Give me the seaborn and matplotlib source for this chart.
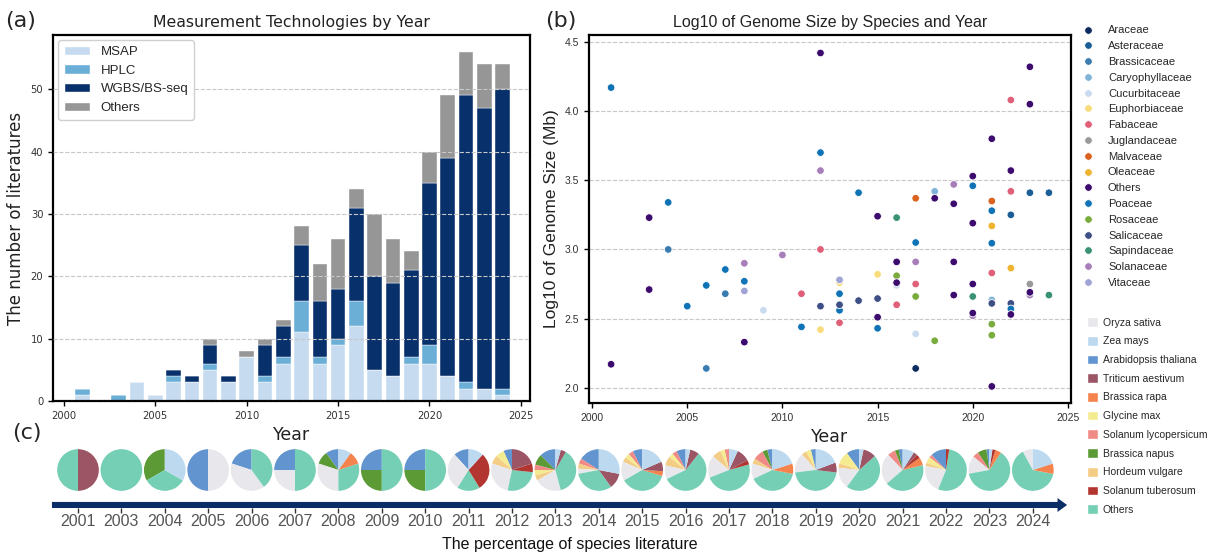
import matplotlib.pyplot as plt
import matplotlib.patches as mpatches
import numpy as np
import pandas as pd
import seaborn as sns

W, H = 1215, 554

# ---- data ----
years = [2001, 2003] + list(range(2004, 2025))

# (a) number of papers per measurement technology
msap = [1, 0, 3, 1, 3, 3, 5, 3, 7, 3, 6, 11, 6, 9, 12, 5, 4, 6, 6, 4, 2, 2, 1]
hplc = [1, 1, 0, 0, 1, 0, 1, 0, 0, 1, 1, 5, 1, 1, 4, 0, 0, 1, 3, 0, 1, 0, 1]
wgbs = [0, 0, 0, 0, 1, 1, 3, 1, 0, 5, 5, 9, 9, 8, 15, 15, 15, 14, 26, 35, 46, 45, 48]
other_tech = [0, 0, 0, 0, 0, 0, 1, 0, 1, 1, 1, 3, 6, 8, 3, 10, 7, 3, 5, 10, 7, 7, 4]
tech_names = ["MSAP", "HPLC", "WGBS/BS-seq", "Others"]
tech_colors = ["#c6dbef", "#6baed6", "#08306b", "#969696"]

# (b) log10 genome size by family
pt_year = [2001, 2001, 2003, 2003, 2004, 2004, 2005, 2006, 2006, 2007, 2007,
           2008, 2008, 2008, 2008, 2009, 2010, 2011, 2011,
           2012, 2012, 2012, 2012, 2012, 2012,
           2013, 2013, 2013, 2013, 2013, 2013, 2014, 2014,
           2015, 2015, 2015, 2015, 2015,
           2016, 2016, 2016, 2016, 2016, 2016,
           2017, 2017, 2017, 2017, 2017, 2017, 2017,
           2018, 2018, 2018, 2019, 2019, 2019, 2019,
           2020, 2020, 2020, 2020, 2020, 2020, 2020,
           2021, 2021, 2021, 2021, 2021, 2021, 2021, 2021, 2021, 2021, 2021,
           2022, 2022, 2022, 2022, 2022, 2022, 2022, 2022,
           2023, 2023, 2023, 2023, 2023, 2023, 2024, 2024]
pt_logsize = [4.17, 2.17, 3.23, 2.71, 3.34, 3.00, 2.59, 2.74, 2.14, 2.855, 2.68,
              2.90, 2.77, 2.70, 2.33, 2.56, 2.96, 2.68, 2.44,
              4.42, 3.70, 3.57, 3.00, 2.59, 2.42,
              2.76, 2.78, 2.68, 2.56, 2.60, 2.47, 3.41, 2.63,
              3.24, 2.82, 2.645, 2.51, 2.43,
              3.23, 2.91, 2.81, 2.74, 2.76, 2.60,
              3.37, 3.05, 2.91, 2.75, 2.66, 2.39, 2.14,
              3.42, 3.37, 2.34, 3.47, 3.33, 2.91, 2.67,
              3.53, 3.46, 3.19, 2.75, 2.66, 2.52, 2.54,
              3.80, 3.35, 3.28, 3.17, 3.045, 2.83, 2.635, 2.61, 2.46, 2.38, 2.01,
              4.08, 3.57, 3.42, 3.25, 2.865, 2.61, 2.57, 2.53,
              4.32, 4.05, 3.41, 2.75, 2.67, 2.69, 3.41, 2.67]
pt_family = ["Poaceae", "Others", "Others", "Others", "Poaceae", "Brassicaceae", "Poaceae",
             "Poaceae", "Brassicaceae", "Poaceae", "Brassicaceae",
             "Solanaceae", "Poaceae", "Vitaceae", "Others", "Cucurbitaceae", "Solanaceae",
             "Fabaceae", "Poaceae",
             "Others", "Poaceae", "Solanaceae", "Fabaceae", "Salicaceae", "Euphorbiaceae",
             "Euphorbiaceae", "Vitaceae", "Poaceae", "Poaceae", "Salicaceae", "Fabaceae",
             "Poaceae", "Salicaceae",
             "Others", "Euphorbiaceae", "Salicaceae", "Others", "Poaceae",
             "Sapindaceae", "Others", "Rosaceae", "Cucurbitaceae", "Others", "Fabaceae",
             "Malvaceae", "Poaceae", "Solanaceae", "Fabaceae", "Rosaceae", "Cucurbitaceae", "Araceae",
             "Caryophyllaceae", "Others", "Rosaceae", "Solanaceae", "Others", "Others", "Others",
             "Others", "Poaceae", "Others", "Others", "Sapindaceae", "Solanaceae", "Others",
             "Others", "Malvaceae", "Poaceae", "Oleaceae", "Poaceae", "Fabaceae",
             "Caryophyllaceae", "Salicaceae", "Rosaceae", "Rosaceae", "Others",
             "Fabaceae", "Others", "Fabaceae", "Asteraceae", "Oleaceae", "Salicaceae",
             "Poaceae", "Others",
             "Others", "Others", "Asteraceae", "Juglandaceae", "Solanaceae", "Others",
             "Asteraceae", "Sapindaceae"]
families = ["Araceae", "Asteraceae", "Brassicaceae", "Caryophyllaceae", "Cucurbitaceae",
            "Euphorbiaceae", "Fabaceae", "Juglandaceae", "Malvaceae", "Oleaceae", "Others",
            "Poaceae", "Rosaceae", "Salicaceae", "Sapindaceae", "Solanaceae", "Vitaceae"]
family_colors = ["#0d2b5e", "#1b5e96", "#3b7cb0", "#80b3d8", "#c9dbee",
                 "#f8dc7c", "#e0607a", "#9a9a9a", "#d8621e", "#eeb32f", "#3d0a6e",
                 "#0f73b6", "#79ac3c", "#3e4f86", "#3a9274", "#a77eb9", "#a0a4d4"]

# (c) species share per year
oryza = [0, 0, 0, 1, 2, 1, 3, 0, 0, 5, 4, 5, 1, 4, 3, 5, 3, 4, 5, 8, 9, 6, 2]
zea = [0, 0, 1, 0, 0, 0, 1, 0, 0, 2, 0, 1, 7, 5, 1, 2, 5, 5, 1, 3, 0, 1, 5]
arabidopsis = [0, 0, 0, 1, 1, 1, 1, 1, 1, 2, 1, 3, 4, 2, 2, 0, 1, 1, 3, 1, 5, 1, 0]
triticum = [1, 0, 0, 0, 0, 0, 0, 0, 0, 0, 3, 1, 3, 2, 2, 3, 0, 2, 3, 1, 0, 0, 0]
b_rapa = [0, 0, 0, 0, 0, 0, 1, 0, 0, 0, 0, 0, 0, 1, 0, 0, 2, 0, 0, 2, 0, 2, 2]
glycine = [0, 0, 0, 0, 0, 0, 0, 0, 0, 0, 1, 1, 0, 1, 1, 1, 0, 1, 3, 0, 2, 0, 0]
lycopersicum = [0, 0, 0, 0, 0, 0, 0, 0, 0, 0, 0, 1, 1, 1, 1, 1, 2, 0, 0, 2, 1, 2, 0]
b_napus = [0, 0, 1, 0, 0, 0, 1, 1, 1, 0, 0, 2, 0, 0, 0, 0, 1, 0, 0, 1, 0, 3, 0]
hordeum = [0, 0, 0, 0, 0, 0, 0, 0, 0, 0, 1, 1, 1, 1, 2, 2, 1, 1, 1, 0, 1, 0, 0]
tuberosum = [0, 0, 0, 0, 0, 0, 0, 0, 0, 5, 1, 0, 0, 0, 0, 1, 0, 0, 0, 1, 1, 1, 0]
other_species = [1, 1, 1, 0, 2, 2, 3, 2, 2, 3, 4, 9, 8, 10, 16, 14, 10, 12, 14, 14, 22, 27, 16]
species = ["Oryza sativa", "Zea mays", "Arabidopsis thaliana", "Triticum aestivum",
           "Brassica rapa", "Glycine max", "Solanum lycopersicum", "Brassica napus",
           "Hordeum vulgare", "Solanum tuberosum", "Others"]
species_colors = ["#e8e8ec", "#bcd9f0", "#6295cf", "#9b5564", "#f4834e", "#f5ec92",
                  "#f08a86", "#5c9a35", "#f3cc85", "#b23530", "#74cfb4"]
wedge_order = ["Arabidopsis thaliana", "Brassica napus", "Solanum lycopersicum", "Glycine max",
               "Hordeum vulgare", "Oryza sativa", "Others", "Brassica rapa",
               "Solanum tuberosum", "Triticum aestivum", "Zea mays"]

# ---- style ----
sns.set_theme(style="ticks")
plt.rcParams["font.family"] = ["DejaVu Sans"]
ARIAL = "Liberation Sans"

fig = plt.figure(figsize=(W / 100, H / 100), dpi=100)


def px_axes(left, top, right, bottom):
    return fig.add_axes([left / W, 1 - bottom / H, (right - left) / W, (bottom - top) / H])


def frame(ax):
    for sp in ax.spines.values():
        sp.set_visible(True)
        sp.set_color("black")
        sp.set_linewidth(1.6)
    ax.tick_params(direction="out", length=3.5, width=1, color="black", labelcolor="#333333")


# ---- (a) stacked bars ----
ax_a = px_axes(53, 35, 530, 401)
tech_df = pd.DataFrame({
    "year": years * 4,
    "count": msap + hplc + wgbs + other_tech,
    "tech": np.repeat(tech_names, len(years)),
})
sns.histplot(data=tech_df, x="year", weights="count", hue="tech",
             hue_order=tech_names[::-1], palette=dict(zip(tech_names, tech_colors)),
             multiple="stack", discrete=True, shrink=0.8, alpha=1,
             edgecolor="white", linewidth=0.3, legend=False, ax=ax_a)
ax_a.set_xlim(1999.4, 2025.5)
ax_a.set_ylim(0, 58.7)
ax_a.set_xticks(range(2000, 2026, 5))
ax_a.set_yticks(range(0, 60, 10))
ax_a.yaxis.grid(True, linestyle="--", color="#c8c8c8", linewidth=0.8)
ax_a.set_axisbelow(False)
frame(ax_a)
ax_a.tick_params(labelsize=7.2)
ax_a.set_title("Measurement Technologies by Year", fontsize=11.3, color="#222222")
ax_a.set_xlabel("Year", fontsize=12.5, color="#222222")
ax_a.set_ylabel("The number of literatures", fontsize=12, color="#222222")
tech_handles = [mpatches.Patch(facecolor=c, label=n) for n, c in zip(tech_names, tech_colors)]
ax_a.legend(handles=tech_handles, loc="upper left", borderaxespad=0.4,
            prop={"family": ARIAL, "size": 9.5}, frameon=True, fancybox=True,
            edgecolor="#d0d0d0", framealpha=1)

# ---- (b) scatter ----
ax_b = px_axes(589, 35, 1071, 403)
pts = pd.DataFrame({"year": pt_year, "log_size": pt_logsize, "family": pt_family})
sns.scatterplot(data=pts, x="year", y="log_size", hue="family", hue_order=families,
                palette=dict(zip(families, family_colors)), s=30,
                edgecolor="white", linewidth=0.6, ax=ax_b, zorder=3)
ax_b.set_xlim(1999.84, 2025.16)
ax_b.set_ylim(1.89, 4.55)
ax_b.set_xticks(range(2000, 2026, 5))
ax_b.set_yticks([2.0, 2.5, 3.0, 3.5, 4.0, 4.5])
ax_b.yaxis.grid(True, linestyle="--", color="#c8c8c8", linewidth=0.8)
frame(ax_b)
ax_b.tick_params(labelsize=7.5)
for lab in ax_b.get_xticklabels() + ax_b.get_yticklabels():
    lab.set_family(ARIAL)
ax_b.set_title("Log10 of Genome Size by Species and Year", fontsize=11.5,
               family=ARIAL, color="#222222")
ax_b.set_xlabel("Year", fontsize=12.5, color="#222222")
ax_b.set_ylabel("Log10 of Genome Size (Mb)", fontsize=12.5, family=ARIAL, color="#222222")
sns.move_legend(ax_b, "upper left", bbox_to_anchor=(1078 / W, 1 - 21 / H),
                bbox_transform=fig.transFigure, frameon=False, title=None,
                prop={"family": ARIAL, "size": 8}, handlelength=1.0,
                handletextpad=1.3, labelspacing=0.52, borderaxespad=0)

# ---- (c) pies along a timeline ----
step = 43.4          # pixels between pies
x0_px, yc_px = 78, 470
ax_c = px_axes(0, 440, W, H)
pie_df = pd.DataFrame(dict(zip(species, [oryza, zea, arabidopsis, triticum, b_rapa, glycine,
                                         lycopersicum, b_napus, hordeum, tuberosum,
                                         other_species])), index=years)
color_of = dict(zip(species, species_colors))
for i, yr in enumerate(years):
    row = pie_df.loc[yr, wedge_order]
    row = row[row > 0]
    ax_c.pie(row.values, colors=[color_of[s] for s in row.index], center=(i, 0),
             radius=0.48, startangle=90, wedgeprops={"linewidth": 0})
ax_c.set_xlim(-x0_px / step, (W - x0_px) / step)
ax_c.set_ylim(-(H - yc_px) / step, (yc_px - 440) / step)
ax_c.set_aspect("equal")
ax_c.axis("off")

ax_c.arrow(-0.6, -0.806, 23.39, 0, width=0.14, head_width=0.32, head_length=0.22,
           length_includes_head=True, color="#0a2d66", linewidth=0)
ax_c.vlines(range(len(years)), -0.88, -0.99, color="#333333", linewidth=1)
for i, yr in enumerate(years):
    ax_c.text(i, -1.19, str(yr), ha="center", va="center", fontsize=11.5,
              family=ARIAL, color="#555555")
ax_c.text(11.34, -1.71, "The percentage of species literature", ha="center", va="center",
          fontsize=11.5, family=ARIAL, color="#111111")

sp_handles = [mpatches.Patch(facecolor=c, label=s) for s, c in zip(species, species_colors)]
fig.legend(handles=sp_handles, loc="upper left", bbox_to_anchor=(1083 / W, 1 - 313 / H),
           frameon=False, prop={"family": ARIAL, "size": 7.5}, handlelength=1.05,
           handleheight=1.05, handletextpad=0.45, labelspacing=0.8, borderaxespad=0)

# panel letters
fig.text(21 / W, 1 - 21 / H, "(a)", fontsize=16, ha="center", va="center")
fig.text(561 / W, 1 - 21 / H, "(b)", fontsize=16, ha="center", va="center")
fig.text(27 / W, 1 - 433 / H, "(c)", fontsize=16, ha="center", va="center")

fig.savefig("out.png", dpi=100)
